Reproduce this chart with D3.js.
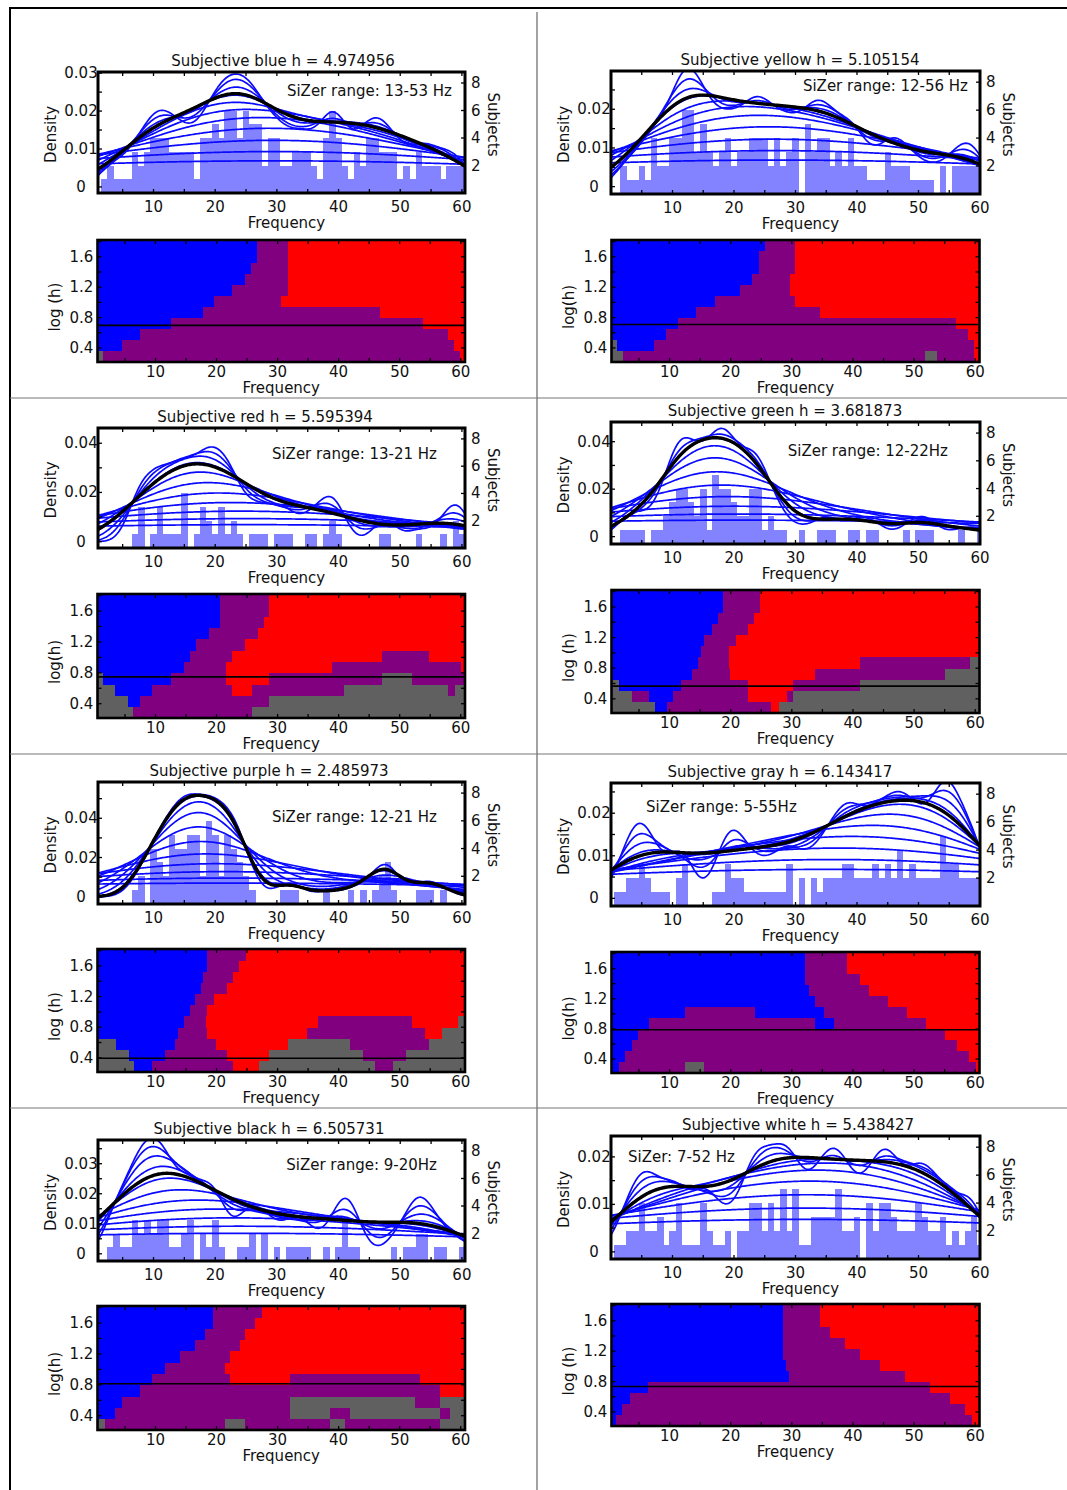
<!DOCTYPE html>
<html>
<head>
<meta charset="utf-8">
<script src="https://cdn.jsdelivr.net/npm/d3@7"></script>
<style>
  body { margin: 0; background: #fff; }
  text { font-family: 'DejaVu Sans', sans-serif; fill: #111; }
</style>
</head>
<body>
<svg id="fig" width="1067" height="1490"></svg>
<script>
// ---------- data ----------

// frequency bins (Hz), one histogram bar each
var binFreqs = [1,2,3,4,5,6,7,8,9,10,11,12,13,14,15,16,17,18,19,20,
  21,22,23,24,25,26,27,28,29,30,31,32,33,34,35,36,37,38,39,40,
  41,42,43,44,45,46,47,48,49,50,51,52,53,54,55,56,57,58,59,60];

// subjects per frequency bin
var histBlue   = [0,1,2,1,1,1,3,2,3,4, 4,4,3,3,3,3,1,4,4,5, 4,6,6,4,6,5,5,2,4,4, 2,2,3,3,3,2,1,4,6,4, 2,1,3,2,4,4,3,3,3,1, 2,1,3,2,2,2,1,2,2,2];
var histYellow = [0,2,1,1,2,1,4,2,2,4, 4,6,6,3,5,3,2,3,4,2, 3,3,4,4,4,2,4,2,3,4, 0,5,3,4,4,2,3,2,4,2, 2,1,1,1,3,2,2,2,1,1, 1,1,0,2,0,2,2,2,2,2];
var histRed    = [0,0,0,0,0,0,1,3,0,1, 3,1,1,1,4,0,1,3,2,1, 3,1,2,1,0,1,1,1,0,1, 1,1,0,0,1,1,0,1,2,1, 0,0,0,0,0,0,1,1,0,0, 0,0,1,0,0,0,1,0,2,1];
var histGreen  = [0,1,1,1,1,0,1,1,2,3, 4,4,3,2,4,1,5,4,4,3, 2,2,4,4,1,2,1,1,0,0, 1,0,0,1,1,1,0,0,1,1, 0,1,1,0,0,0,0,1,0,1, 1,1,0,0,0,0,1,0,0,1];
var histPurple = [0,0,0,0,0,0,1,2,0,4, 3,2,5,4,4,5,5,2,6,5, 2,5,4,3,2,1,0,0,0,0, 1,1,1,0,0,0,0,1,0,0, 0,1,0,1,0,1,2,3,1,0, 0,0,1,1,1,0,1,0,0,0];
var histGray   = [1,1,2,2,3,2,1,1,1,0, 2,3,0,0,0,0,1,1,3,2, 2,1,1,1,1,1,1,1,3,0, 2,0,2,1,2,2,2,3,3,2, 2,2,3,2,3,2,4,2,3,2, 2,2,2,5,3,3,2,2,2,2];
var histBlack  = [0,0,1,2,1,1,3,2,3,2, 3,3,1,1,2,3,0,2,1,3, 1,0,0,1,1,2,0,2,0,1, 0,1,1,1,1,0,0,1,0,1, 3,1,1,0,0,0,0,0,1,0, 1,1,2,2,0,1,1,0,0,1];
var histWhite  = [1,1,2,2,4,2,2,3,1,2, 4,1,1,1,4,2,1,1,2,0, 2,2,4,4,2,4,2,5,2,5, 1,1,3,3,3,3,5,2,2,3, 0,4,2,4,4,3,2,2,2,4, 3,2,2,3,1,2,1,2,3,1];

var panelNames = ['blue', 'yellow', 'red', 'green', 'purple', 'gray', 'black', 'white'];
var bandwidths = [4.974956, 5.105154, 5.595394, 3.681873, 2.485973, 6.143417, 6.505731, 5.438427];
var sizerNotes = ['SiZer range: 13-53 Hz', 'SiZer range: 12-56 Hz', 'SiZer range: 13-21 Hz', 'SiZer range: 12-22Hz',
  'SiZer range: 12-21 Hz', 'SiZer range: 5-55Hz', 'SiZer range: 9-20Hz', 'SiZer: 7-52 Hz'];
var logHNames = ['log (h)', 'log(h)', 'log(h)', 'log (h)', 'log (h)', 'log(h)', 'log(h)', 'log (h)'];

var densityTicks = [[0,0.01,0.02,0.03],[0,0.01,0.02],[0,0.02,0.04],[0,0.02,0.04],
  [0,0.02,0.04],[0,0.01,0.02],[0,0.01,0.02,0.03],[0,0.01,0.02]];
var densityRanges = [[-0.0016,0.0303],[-0.0019,0.0299],[-0.0026,0.0462],[-0.0031,0.0483],
  [-0.0037,0.0585],[-0.0018,0.0271],[-0.0024,0.0379],[-0.0015,0.0244]];
var subjectRange = [0, 8.8];
var subjectTicks = [2, 4, 6, 8];
var freqTicks = [10, 20, 30, 40, 50, 60];
var logHTicks = [0.4, 0.8, 1.2, 1.6];
var logHRange = [0.215, 1.821];
// bandwidth levels (log10 h) of the SiZer rows and of the blue family of curves
var logHLevels = [0.288, 0.434, 0.58, 0.726, 0.872, 1.018, 1.164, 1.31, 1.456, 1.602, 1.748];

// SiZer maps: one row per logHLevel (bottom to top), [start frequency, class]
// b = significant increase, r = significant decrease, p = not significant, g = too sparse
var sizerBlue = [
  [[0,'g'],[1.45,'p'],[59.9,'r']],
  [[0,'b'],[4.46,'p'],[58.9,'r']],
  [[0,'b'],[7.46,'p'],[57.9,'r']],
  [[0,'b'],[12.5,'p'],[53.9,'r']],
  [[0,'b'],[17.7,'p'],[46.8,'r']],
  [[0,'b'],[19.6,'p'],[30.6,'r']],
  [[0,'b'],[22.6,'p'],[31.7,'r']],
  [[0,'b'],[24.7,'p'],[31.7,'r']],
  [[0,'b'],[25.6,'p'],[31.7,'r']],
  [[0,'b'],[26.7,'p'],[31.7,'r']],
  [[0,'b'],[26.7,'p'],[31.7,'r']]
];
var sizerYellow = [
  [[0,'g'],[2.4,'p'],[51.8,'g'],[53.8,'p'],[59.8,'r']],
  [[0,'g'],[1.35,'b'],[7.45,'p'],[59.8,'r']],
  [[0,'b'],[9.4,'p'],[58.9,'r']],
  [[0,'b'],[11.4,'p'],[56.9,'r']],
  [[0,'b'],[14.4,'p'],[34.6,'r']],
  [[0,'b'],[17.5,'p'],[30.5,'r']],
  [[0,'b'],[21.5,'p'],[29.7,'r']],
  [[0,'b'],[23.5,'p'],[29.7,'r']],
  [[0,'b'],[24.6,'p'],[30.5,'r']],
  [[0,'b'],[24.6,'p'],[30.5,'r']],
  [[0,'b'],[25.6,'p'],[30.5,'r']]
];
var sizerRed = [
  [[0,'g'],[6.3,'p'],[25.8,'g']],
  [[0,'g'],[5.5,'b'],[7.4,'p'],[28.6,'g']],
  [[0,'g'],[3.4,'b'],[9.45,'p'],[22.6,'r'],[25.8,'p'],[40.8,'g'],[57.9,'p'],[59,'g']],
  [[0,'g'],[1.35,'b'],[12.6,'p'],[21.6,'r'],[28.6,'p'],[47.1,'g'],[52,'p']],
  [[0,'b'],[14.6,'p'],[21.6,'r'],[38.9,'p'],[60,'r']],
  [[0,'b'],[15.6,'p'],[22.6,'r'],[47.1,'p'],[54.8,'r']],
  [[0,'b'],[16.7,'p'],[24.7,'r']],
  [[0,'b'],[18.8,'p'],[26.8,'r']],
  [[0,'b'],[20.6,'p'],[27.8,'r']],
  [[0,'b'],[20.6,'p'],[28.6,'r']],
  [[0,'b'],[20.6,'p'],[28.6,'r']]
];
var sizerGreen = [
  [[0,'g'],[7.65,'b'],[9.5,'p'],[26.6,'r'],[27.9,'g']],
  [[0,'g'],[3.8,'p'],[6.6,'b'],[10.5,'p'],[22.8,'r'],[29.2,'p'],[30.2,'g']],
  [[0,'g'],[1.74,'b'],[11.8,'p'],[22.8,'r'],[30.2,'p'],[41.1,'g']],
  [[0,'b'],[13.65,'p'],[19.9,'r'],[33.8,'p'],[55.1,'g']],
  [[0,'b'],[14.7,'p'],[19.7,'r'],[41.1,'p'],[59.2,'g']],
  [[0,'b'],[15.2,'p'],[19.7,'r']],
  [[0,'b'],[15.7,'p'],[20.9,'r']],
  [[0,'b'],[17,'p'],[22.8,'r']],
  [[0,'b'],[18,'p'],[23.8,'r']],
  [[0,'b'],[18.8,'p'],[24.8,'r']],
  [[0,'b'],[18.8,'p'],[24.8,'r']]
];
var sizerPurple = [
  [[0,'g'],[6.4,'b'],[9.5,'p'],[22.7,'r'],[26.9,'g'],[46,'p'],[48.9,'g']],
  [[0,'g'],[5.6,'b'],[11.5,'p'],[21.7,'r'],[28.6,'g'],[43.95,'p'],[51,'g']],
  [[0,'g'],[3.5,'b'],[13.2,'p'],[19.9,'r'],[31.7,'g'],[41.9,'p'],[54.8,'g']],
  [[0,'b'],[13.7,'p'],[18.5,'r'],[34.8,'p'],[54.1,'r'],[56.9,'g']],
  [[0,'b'],[14.7,'p'],[18.2,'r'],[36.7,'p'],[52,'r'],[59.5,'g']],
  [[0,'b'],[15.7,'p'],[18.5,'r']],
  [[0,'b'],[16.5,'p'],[19.6,'r']],
  [[0,'b'],[17.5,'p'],[21.7,'r']],
  [[0,'b'],[17.8,'p'],[22.7,'r']],
  [[0,'b'],[18.5,'p'],[23.7,'r']],
  [[0,'b'],[18.5,'p'],[24.8,'r']]
];
var sizerGray = [
  [[0,'b'],[1.74,'p'],[12.6,'g'],[15.7,'p'],[60.05,'r']],
  [[0,'b'],[2.77,'p'],[59,'r']],
  [[0,'b'],[3.8,'p'],[57.1,'r']],
  [[0,'b'],[4.85,'p'],[55.1,'r']],
  [[0,'b'],[6.6,'p'],[33.8,'b'],[36.9,'p'],[51.95,'r']],
  [[0,'b'],[12.6,'p'],[24,'b'],[35.2,'p'],[48.9,'r']],
  [[0,'b'],[33.8,'p'],[45.75,'r']],
  [[0,'b'],[32.8,'p'],[42.6,'r']],
  [[0,'b'],[32.1,'p'],[41.1,'r']],
  [[0,'b'],[32.1,'p'],[39,'r']],
  [[0,'b'],[32.1,'p'],[39,'r']]
];
var sizerBlack = [
  [[0,'g'],[1.7,'p'],[21.4,'g'],[24.7,'p'],[38.6,'g'],[41,'p'],[56.6,'g']],
  [[0,'b'],[3.4,'p'],[32,'g'],[38.6,'p'],[41.9,'g'],[56.6,'p'],[58.2,'g']],
  [[0,'b'],[4.5,'p'],[32,'g'],[52.5,'p'],[56.6,'g']],
  [[0,'b'],[7.5,'p'],[56.6,'r']],
  [[0,'b'],[9.4,'p'],[22.2,'r'],[32,'p'],[53.3,'r']],
  [[0,'b'],[11.6,'p'],[21.4,'r']],
  [[0,'b'],[14,'p'],[22.2,'r']],
  [[0,'b'],[16.5,'p'],[23.8,'r']],
  [[0,'b'],[18.1,'p'],[24.7,'r']],
  [[0,'b'],[19.4,'p'],[26.3,'r']],
  [[0,'b'],[19.4,'p'],[27.4,'r']]
];
var sizerWhite = [
  [[0,'b'],[1.2,'p'],[59.5,'r']],
  [[0,'b'],[2.2,'p'],[58.3,'r']],
  [[0,'b'],[3.5,'p'],[55.9,'r']],
  [[0,'b'],[6.5,'p'],[52.6,'r']],
  [[0,'b'],[29.5,'p'],[48.5,'r']],
  [[0,'b'],[29,'p'],[44.4,'r']],
  [[0,'b'],[28.6,'p'],[41.1,'r']],
  [[0,'b'],[28.6,'p'],[38.7,'r']],
  [[0,'b'],[28.6,'p'],[36.2,'r']],
  [[0,'b'],[28.6,'p'],[34.6,'r']],
  [[0,'b'],[28.6,'p'],[34.6,'r']]
];

var hists = [histBlue, histYellow, histRed, histGreen, histPurple, histGray, histBlack, histWhite];
var sizers = [sizerBlue, sizerYellow, sizerRed, sizerGreen, sizerPurple, sizerGray, sizerBlack, sizerWhite];

// ---------- layout ----------
var columns = [
  {dx0: 98, dx1: 465, fDom: [1, 60.5], sx0: 97.5, sx1: 465},
  {dx0: 611, dx1: 980, fDom: [0, 60], sx0: 611.5, sx1: 979.5}
];
var sizerFreqDom = [0.5, 60.7];
var layout = [
  {col: 0, dTop: 72,   dBot: 193,  sTop: 240,  sBot: 362,  titleX: 283, noteX: 452, noteY: 96,   anchor: 'end'},
  {col: 1, dTop: 71,   dBot: 194,  sTop: 240,  sBot: 362,  titleX: 800, noteX: 968, noteY: 91,   anchor: 'end'},
  {col: 0, dTop: 428,  dBot: 548,  sTop: 594,  sBot: 718,  titleX: 265, noteX: 437, noteY: 459,  anchor: 'end'},
  {col: 1, dTop: 422,  dBot: 544,  sTop: 590,  sBot: 713,  titleX: 785, noteX: 948, noteY: 456,  anchor: 'end'},
  {col: 0, dTop: 782,  dBot: 904,  sTop: 949,  sBot: 1072, titleX: 269, noteX: 437, noteY: 822,  anchor: 'end'},
  {col: 1, dTop: 783,  dBot: 906,  sTop: 952,  sBot: 1073, titleX: 780, noteX: 646, noteY: 812,  anchor: 'start'},
  {col: 0, dTop: 1140, dBot: 1261, sTop: 1306, sBot: 1430, titleX: 269, noteX: 437, noteY: 1170, anchor: 'end'},
  {col: 1, dTop: 1136, dBot: 1259, sTop: 1304, sBot: 1426, titleX: 798, noteX: 628, noteY: 1162, anchor: 'start'}
];
var sizerColors = {b: '#0000ff', p: '#800080', r: '#ff0000', g: '#606060'};
var histColor = '#8383ff';
var fontSize = 15;

var svg = d3.select('#fig');
var defs = svg.append('defs');

// page frame and dividers
svg.append('line').attr('x1', 9).attr('x2', 1067).attr('y1', 8).attr('y2', 8)
  .style('stroke', '#000').style('stroke-width', 2);
svg.append('line').attr('x1', 10).attr('x2', 10).attr('y1', 8).attr('y2', 1490)
  .style('stroke', '#000').style('stroke-width', 2);
svg.append('line').attr('x1', 537).attr('x2', 537).attr('y1', 12).attr('y2', 1490)
  .style('stroke', '#666').style('stroke-width', 1.2);
[398, 754, 1108].forEach(function(yy) {
  svg.append('line').attr('x1', 10).attr('x2', 1067).attr('y1', yy).attr('y2', yy)
    .style('stroke', '#777').style('stroke-width', 1.2);
});

// gaussian kernel density of a binned sample
function kde(counts, h, xs) {
  var n = d3.sum(counts);
  var c = 1 / (n * h * Math.sqrt(2 * Math.PI));
  return xs.map(function(x) {
    var s = 0;
    for (var i = 0; i < counts.length; i++) {
      if (counts[i] > 0) {
        var u = (x - binFreqs[i]) / h;
        s += counts[i] * Math.exp(-0.5 * u * u);
      }
    }
    return [x, s * c];
  });
}

function ticksEvery(lo, hi, step) {
  var out = [];
  for (var v = Math.ceil(lo / step - 1e-9) * step; v <= hi + 1e-9; v += step) out.push(+v.toFixed(6));
  return out;
}

function drawPanel(k) {
  var L = layout[k];
  var C = columns[L.col];
  var hist = hists[k];
  var g = svg.append('g').attr('id', 'panel-' + panelNames[k]);

  //---------------- density plot ----------------
  var x = d3.scaleLinear().domain(C.fDom).range([C.dx0, C.dx1]);
  var y = d3.scaleLinear().domain(densityRanges[k]).range([L.dBot, L.dTop]);
  var ySub = d3.scaleLinear().domain(subjectRange).range([L.dBot, L.dTop]);

  var clipId = 'clip-d-' + k;
  defs.append('clipPath').attr('id', clipId).append('rect')
    .attr('x', C.dx0).attr('y', L.dTop).attr('width', C.dx1 - C.dx0).attr('height', L.dBot - L.dTop);
  var plot = g.append('g').attr('clip-path', 'url(#' + clipId + ')');

  var bars = binFreqs.map(function(f, i) { return {f: f, n: hist[i]}; })
    .filter(function(d) { return d.n > 0; });
  plot.selectAll('rect.bar')
    .data(bars)
    .enter()
    .append('rect')
    .attr('class', 'bar')
    .attr('x', function(d) { return x(d.f - 0.5); })
    .attr('width', function(d) { return x(d.f + 0.5) - x(d.f - 0.5) + 0.3; })
    .attr('y', function(d) { return ySub(d.n); })
    .attr('height', function(d) { return ySub(0) - ySub(d.n); })
    .style('fill', histColor)
    .attr('shape-rendering', 'crispEdges');

  var xs = d3.range(C.fDom[0] - 0.5, C.fDom[1] + 0.5, 0.2);
  var line = d3.line().x(function(d) { return x(d[0]); }).y(function(d) { return y(d[1]); });

  plot.selectAll('path.family')
    .data(logHLevels)
    .enter()
    .append('path')
    .attr('class', 'family')
    .attr('d', function(lh) { return line(kde(hist, Math.pow(10, lh), xs)); })
    .style('fill', 'none')
    .style('stroke', '#0a0aff')
    .style('stroke-width', 1.7);

  plot.append('path')
    .attr('d', line(kde(hist, bandwidths[k], xs)))
    .style('fill', 'none')
    .style('stroke', '#000')
    .style('stroke-width', 3.4);

  // inward ticks
  var tk = g.append('g').style('stroke', '#000').style('stroke-width', 1.3);
  ticksEvery(5, C.fDom[1], 5).forEach(function(f) {
    tk.append('line').attr('x1', x(f)).attr('x2', x(f)).attr('y1', L.dTop).attr('y2', L.dTop + 4);
    tk.append('line').attr('x1', x(f)).attr('x2', x(f)).attr('y1', L.dBot).attr('y2', L.dBot - 4);
  });
  var dStep = densityTicks[k][1] / 2;
  ticksEvery(0, densityRanges[k][1], dStep).forEach(function(v) {
    tk.append('line').attr('x1', C.dx0).attr('x2', C.dx0 + 4).attr('y1', y(v)).attr('y2', y(v));
  });
  subjectTicks.forEach(function(s) {
    tk.append('line').attr('x1', C.dx1).attr('x2', C.dx1 - 4).attr('y1', ySub(s)).attr('y2', ySub(s));
  });

  g.append('rect')
    .attr('x', C.dx0).attr('y', L.dTop).attr('width', C.dx1 - C.dx0).attr('height', L.dBot - L.dTop)
    .style('fill', 'none').style('stroke', '#000').style('stroke-width', 3);

  // labels
  g.append('text')
    .attr('x', L.titleX).attr('y', L.dTop - 6)
    .attr('text-anchor', 'middle').attr('font-size', fontSize)
    .text('Subjective ' + panelNames[k] + ' h = ' + bandwidths[k].toFixed(6));
  g.append('text')
    .attr('x', L.noteX).attr('y', L.noteY)
    .attr('text-anchor', L.anchor).attr('font-size', fontSize)
    .text(sizerNotes[k]);

  g.selectAll('text.xt')
    .data(freqTicks)
    .enter()
    .append('text')
    .attr('class', 'xt')
    .attr('x', function(f) { return x(f); })
    .attr('y', L.dBot + 19)
    .attr('text-anchor', 'middle').attr('font-size', fontSize)
    .text(function(f) { return f; });
  g.append('text')
    .attr('x', (C.dx0 + C.dx1) / 2 + 5).attr('y', L.dBot + 35)
    .attr('text-anchor', 'middle').attr('font-size', fontSize)
    .text('Frequency');

  g.selectAll('text.yt')
    .data(densityTicks[k])
    .enter()
    .append('text')
    .attr('class', 'yt')
    .attr('x', C.dx0 - 17)
    .attr('y', function(v) { return y(v) + 5; })
    .attr('text-anchor', 'middle').attr('font-size', fontSize)
    .text(function(v) { return String(v); });
  g.selectAll('text.st')
    .data(subjectTicks)
    .enter()
    .append('text')
    .attr('class', 'st')
    .attr('x', C.dx1 + 6)
    .attr('y', function(s) { return ySub(s) + 5; })
    .attr('font-size', fontSize)
    .text(function(s) { return s; });

  g.append('text')
    .attr('transform', 'translate(' + (C.dx0 - 42) + ',' + ((L.dTop + L.dBot) / 2 + 2) + ') rotate(-90)')
    .attr('text-anchor', 'middle').attr('font-size', fontSize)
    .text('Density');
  g.append('text')
    .attr('transform', 'translate(' + (C.dx1 + 23) + ',' + ((L.dTop + L.dBot) / 2 - 8) + ') rotate(90)')
    .attr('text-anchor', 'middle').attr('font-size', fontSize)
    .text('Subjects');

  //---------------- SiZer map ----------------
  var sx = d3.scaleLinear().domain(sizerFreqDom).range([C.sx0, C.sx1]);
  var sy = d3.scaleLinear().domain(logHRange).range([L.sBot, L.sTop]);

  var cells = [];
  sizers[k].forEach(function(row, r) {
    var lo = r === 0 ? logHRange[0] : (logHLevels[r - 1] + logHLevels[r]) / 2;
    var hi = r === logHLevels.length - 1 ? logHRange[1] : (logHLevels[r] + logHLevels[r + 1]) / 2;
    row.forEach(function(seg, j) {
      var f0 = Math.max(seg[0], sizerFreqDom[0]);
      var f1 = j < row.length - 1 ? row[j + 1][0] : sizerFreqDom[1];
      cells.push({f0: f0, f1: f1, lo: lo, hi: hi, c: seg[1]});
    });
  });
  g.append('g').selectAll('rect')
    .data(cells)
    .enter()
    .append('rect')
    .attr('x', function(d) { return sx(d.f0); })
    .attr('width', function(d) { return sx(d.f1) - sx(d.f0) + 0.4; })
    .attr('y', function(d) { return sy(d.hi); })
    .attr('height', function(d) { return sy(d.lo) - sy(d.hi) + 0.4; })
    .style('fill', function(d) { return sizerColors[d.c]; })
    .attr('shape-rendering', 'crispEdges');

  var logH = Math.log10(bandwidths[k]);
  g.append('line')
    .attr('x1', C.sx0).attr('x2', C.sx1)
    .attr('y1', sy(logH)).attr('y2', sy(logH))
    .style('stroke', '#000').style('stroke-width', 1.6);

  var stk = g.append('g').style('stroke', '#000').style('stroke-width', 1.3);
  ticksEvery(5, sizerFreqDom[1], 5).forEach(function(f) {
    stk.append('line').attr('x1', sx(f)).attr('x2', sx(f)).attr('y1', L.sTop).attr('y2', L.sTop + 4);
    stk.append('line').attr('x1', sx(f)).attr('x2', sx(f)).attr('y1', L.sBot).attr('y2', L.sBot - 4);
  });
  ticksEvery(0.4, logHRange[1], 0.2).forEach(function(v) {
    stk.append('line').attr('x1', C.sx0).attr('x2', C.sx0 + 4).attr('y1', sy(v)).attr('y2', sy(v));
    stk.append('line').attr('x1', C.sx1).attr('x2', C.sx1 - 4).attr('y1', sy(v)).attr('y2', sy(v));
  });

  g.append('rect')
    .attr('x', C.sx0).attr('y', L.sTop).attr('width', C.sx1 - C.sx0).attr('height', L.sBot - L.sTop)
    .style('fill', 'none').style('stroke', '#000').style('stroke-width', 2.6);

  g.selectAll('text.sxt')
    .data(freqTicks)
    .enter()
    .append('text')
    .attr('class', 'sxt')
    .attr('x', function(f) { return sx(f); })
    .attr('y', L.sBot + 15)
    .attr('text-anchor', 'middle').attr('font-size', fontSize)
    .text(function(f) { return f; });
  g.append('text')
    .attr('x', (C.sx0 + C.sx1) / 2).attr('y', L.sBot + 31)
    .attr('text-anchor', 'middle').attr('font-size', fontSize)
    .text('Frequency');
  g.selectAll('text.syt')
    .data(logHTicks)
    .enter()
    .append('text')
    .attr('class', 'syt')
    .attr('x', C.sx0 - 16)
    .attr('y', function(v) { return sy(v) + 5; })
    .attr('text-anchor', 'middle').attr('font-size', fontSize)
    .text(function(v) { return v.toFixed(1); });
  g.append('text')
    .attr('transform', 'translate(' + (C.sx0 - 38) + ',' + ((L.sTop + L.sBot) / 2 + 6) + ') rotate(-90)')
    .attr('text-anchor', 'middle').attr('font-size', fontSize)
    .text(logHNames[k]);
}

for (var k = 0; k < 8; k++) drawPanel(k);
</script>
</body>
</html>
